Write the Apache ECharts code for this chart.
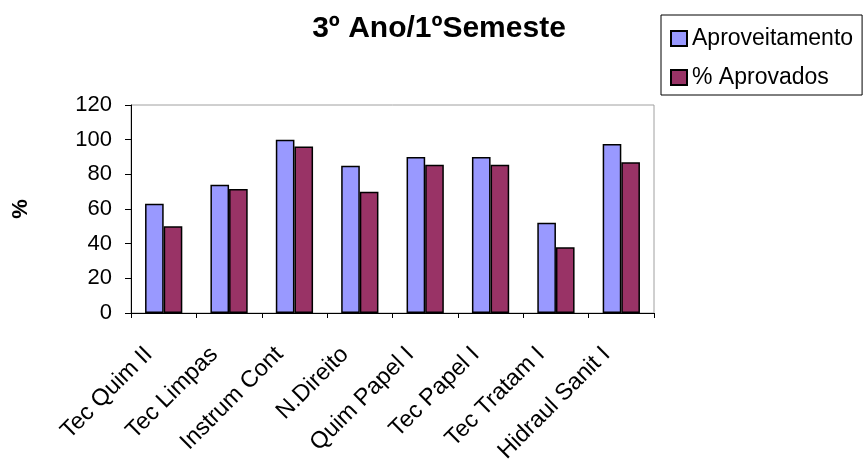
<!DOCTYPE html>
<html>
<head>
<meta charset="utf-8">
<script src="https://cdn.jsdelivr.net/npm/echarts@6/dist/echarts.min.js"></script>
<style>
  html, body { margin: 0; padding: 0; background: #fff; }
  #chart { width: 865px; height: 459px; }
</style>
</head>
<body>
<div id="chart"></div>
<script>
// Subjects of the 3rd year, 1st semester
const categories = ['Tec Quim II', 'Tec Limpas', 'Instrum Cont', 'N.Direito', 'Quim Papel I', 'Tec Papel I', 'Tec Tratam I', 'Hidraul Sanit I'];
// Average performance (%) per subject
const aproveitamento = [63, 74, 100, 85, 90, 90, 52, 97.5];
// Share of students approved (%) per subject
const aprovados = [50, 71.5, 96, 70, 85.5, 85.5, 38, 87];
// Value axis ticks
const yTicks = [0, 20, 40, 60, 80, 100, 120];

const FONT = 'Liberation Sans, Arial, Helvetica, sans-serif';
const chart = echarts.init(document.getElementById('chart'), null, { renderer: 'canvas' });

chart.setOption({
  animation: false,
  backgroundColor: '#ffffff',
  title: {
    text: '3º Ano/1ºSemeste',
    left: 434,
    top: 9,
    textAlign: 'center',
    textStyle: { fontFamily: FONT, fontSize: 30, fontWeight: 'bold', color: '#000' }
  },
  legend: {
    orient: 'vertical',
    left: 661,
    top: 15,
    padding: [12, 9, 6, 9],
    itemGap: 16,
    itemWidth: 16,
    itemHeight: 15,
    borderColor: '#000',
    borderWidth: 1,
    textStyle: { fontFamily: FONT, fontSize: 23, color: '#000' },
    data: [
      { name: 'Aproveitamento', icon: 'rect' },
      { name: '% Aprovados', icon: 'rect' }
    ]
  },
  grid: {
    left: 131,
    right: 211,
    top: 105,
    bottom: 146,
    show: true,
    borderColor: '#a0a0a0',
    borderWidth: 1,
    containLabel: false,
    outerBoundsMode: 'none'
  },
  xAxis: {
    type: 'category',
    data: categories,
    boundaryGap: true,
    axisLine: { show: true, lineStyle: { color: '#000', width: 1 } },
    axisTick: { show: true, length: 5, lineStyle: { color: '#000' } },
    axisLabel: {
      rotate: 45,
      interval: 0,
      margin: 23,
      padding: [0, 21, 0, 0],
      fontFamily: FONT,
      fontSize: 23.5,
      color: '#000'
    },
    splitLine: { show: false }
  },
  yAxis: {
    type: 'value',
    min: yTicks[0],
    max: yTicks[yTicks.length - 1],
    interval: yTicks[1] - yTicks[0],
    name: '%',
    nameLocation: 'middle',
    nameGap: 99,
    nameRotate: 90,
    nameTextStyle: { fontFamily: FONT, fontSize: 22, fontWeight: 'bold', color: '#000' },
    axisLine: { show: true, lineStyle: { color: '#000', width: 1 } },
    axisTick: { show: true, inside: false, length: 6, lineStyle: { color: '#000' } },
    axisLabel: { margin: 19, fontFamily: FONT, fontSize: 22, color: '#000' },
    splitLine: { show: false }
  },
  series: [
    {
      name: 'Aproveitamento',
      type: 'bar',
      data: aproveitamento,
      barGap: '0%',
      barCategoryGap: '43%',
      itemStyle: { color: '#9999ff', borderColor: '#000', borderWidth: 1.5 }
    },
    {
      name: '% Aprovados',
      type: 'bar',
      data: aprovados,
      barGap: '0%',
      barCategoryGap: '43%',
      itemStyle: { color: '#993366', borderColor: '#000', borderWidth: 1.5 }
    }
  ]
});
</script>
</body>
</html>
